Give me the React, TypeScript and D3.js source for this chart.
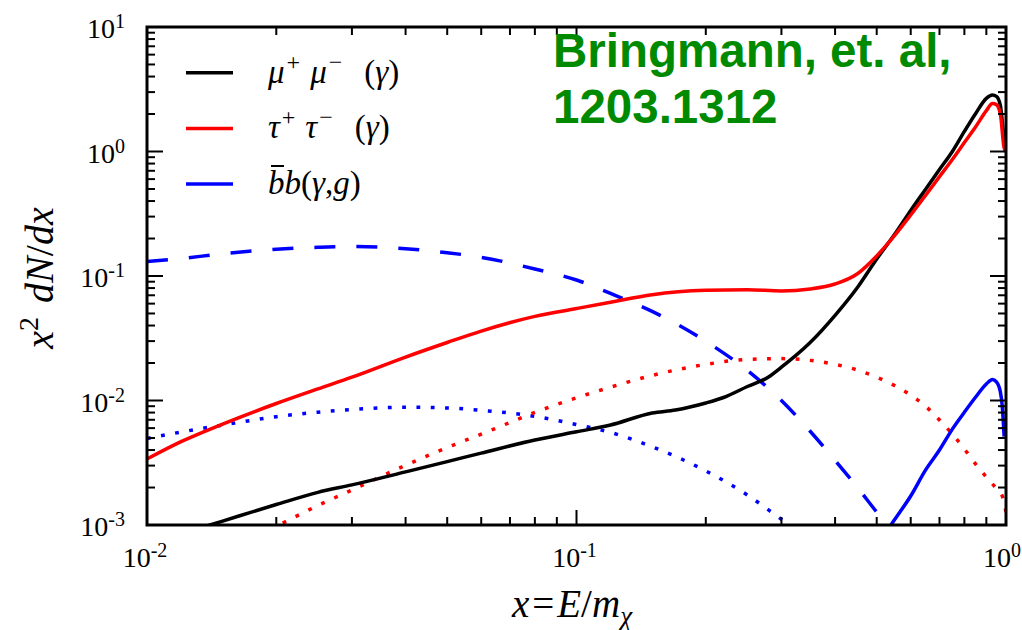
import React from 'react';
import * as d3 from 'd3';

// mu+ mu- (gamma), black solid
const muX = [0.01, 0.012, 0.015, 0.02, 0.025, 0.03, 0.04, 0.05, 0.06, 0.08, 0.1, 0.12, 0.15, 0.17, 0.2, 0.22, 0.25, 0.28, 0.3, 0.35, 0.4, 0.45, 0.5, 0.55, 0.6, 0.65, 0.7, 0.75, 0.8, 0.85, 0.9, 0.93, 0.95, 0.97, 0.99, 1.0];
const muY = [7.0e-4, 8.47e-4, 1.075e-3, 1.46e-3, 1.83e-3, 2.1e-3, 2.67e-3, 3.23e-3, 3.78e-3, 4.82e-3, 5.61e-3, 6.35e-3, 7.94e-3, 8.39e-3, 9.55e-3, 0.01057, 0.01295, 0.01545, 0.0185, 0.0292, 0.0483, 0.0801, 0.137, 0.215, 0.336, 0.498, 0.716, 1.0, 1.45, 2.02, 2.67, 2.84, 2.77, 2.36, 1.24, 1.0];

// tau+ tau- (gamma), red solid
const tauX = [0.01, 0.012, 0.015, 0.02, 0.025, 0.03, 0.04, 0.05, 0.06, 0.08, 0.1, 0.12, 0.15, 0.2, 0.25, 0.3, 0.35, 0.4, 0.45, 0.5, 0.55, 0.6, 0.65, 0.7, 0.75, 0.8, 0.85, 0.9, 0.93, 0.95, 0.97, 0.99, 1.0];
const tauY = [3.39e-3, 4.67e-3, 6.47e-3, 9.46e-3, 0.0124, 0.01538, 0.02233, 0.02924, 0.0361, 0.0474, 0.0548, 0.0616, 0.0708, 0.0767, 0.0776, 0.0758, 0.0787, 0.0863, 0.1038, 0.145, 0.211, 0.309, 0.445, 0.628, 0.863, 1.18, 1.58, 2.13, 2.43, 2.38, 2.01, 1.07, 1.0];

// tau dotted (red)
const tauDotX = [0.018, 0.02, 0.025, 0.03, 0.04, 0.05, 0.06, 0.08, 0.1, 0.12, 0.15, 0.2, 0.25, 0.3, 0.35, 0.4, 0.45, 0.5, 0.55, 0.6, 0.65, 0.7, 0.75, 0.8, 0.85, 0.9, 0.95, 0.98, 1.0];
const tauDotY = [8.37e-4, 9.8e-4, 1.435e-3, 1.91e-3, 3.02e-3, 4.19e-3, 5.36e-3, 8.02e-3, 0.01052, 0.0128, 0.0159, 0.0195, 0.0214, 0.0217, 0.021, 0.0195, 0.0176, 0.0154, 0.0132, 0.01104, 8.98e-3, 6.97e-3, 5.38e-3, 4.08e-3, 3.08e-3, 2.43e-3, 1.96e-3, 1.71e-3, 1.27e-3];

// bb (gamma, g), blue solid
const bbX = [0.5, 0.55, 0.6, 0.65, 0.7, 0.75, 0.8, 0.85, 0.9, 0.93, 0.95, 0.97, 0.98, 0.99];
const bbY = [6.8e-4, 1.1e-3, 1.71e-3, 2.77e-3, 4.0e-3, 5.89e-3, 8.05e-3, 0.01067, 0.01358, 0.01475, 0.0141, 0.01178, 9.04e-3, 5.12e-3];

// bb dashed (blue)
const bbDashX = [0.01, 0.012, 0.015, 0.02, 0.025, 0.03, 0.04, 0.05, 0.06, 0.08, 0.1, 0.12, 0.15, 0.2, 0.25, 0.3, 0.35, 0.4, 0.45, 0.5, 0.55];
const bbDashY = [0.1306, 0.138, 0.151, 0.164, 0.17, 0.1725, 0.1656, 0.1538, 0.1413, 0.1138, 0.0929, 0.0724, 0.052, 0.0299, 0.0174, 0.01, 5.66e-3, 3.3e-3, 2.02e-3, 1.27e-3, 8.5e-4];

// bb dotted (blue)
const bbDotX = [0.01, 0.012, 0.015, 0.02, 0.025, 0.03, 0.04, 0.05, 0.06, 0.08, 0.1, 0.12, 0.15, 0.2, 0.25, 0.3, 0.35];
const bbDotY = [4.95e-3, 5.58e-3, 6.35e-3, 7.41e-3, 8.05e-3, 8.47e-3, 8.82e-3, 8.71e-3, 8.34e-3, 7.46e-3, 6.41e-3, 5.54e-3, 4.25e-3, 2.72e-3, 1.74e-3, 1.11e-3, 7.6e-4];

const xTickExps = [-2, -1, 0];
const yTickExps = [-3, -2, -1, 0, 1];

const W = 1022;
const H = 630;
const L = 147, R = 1006, T = 27, B = 525;

const serif = '"Liberation Serif", "Times New Roman", serif';

const App: React.FC = () => {
  const x = d3.scaleLog().domain([0.01, 1]).range([L, R]);
  const y = d3.scaleLog().domain([1e-3, 10]).range([B, T]);

  const line = d3
    .line<[number, number]>()
    .x(d => x(d[0]))
    .y(d => y(d[1]))
    .curve(d3.curveMonotoneX);

  const path = (xs: number[], ys: number[]) => line(xs.map((v, i) => [v, ys[i]] as [number, number])) || '';

  const series = [
    { xs: bbDashX, ys: bbDashY, color: '#0000ff', dash: '21,21' },
    { xs: bbDotX, ys: bbDotY, color: '#0000ff', dash: '3.8,10.5' },
    { xs: tauDotX, ys: tauDotY, color: '#ff0000', dash: '3.8,10.5' },
    { xs: bbX, ys: bbY, color: '#0000ff', dash: undefined },
    { xs: muX, ys: muY, color: '#000000', dash: undefined },
    { xs: tauX, ys: tauY, color: '#ff0000', dash: undefined },
  ];

  // minor ticks
  const xMinor: number[] = [];
  [-2, -1].forEach(e => d3.range(2, 10).forEach(m => xMinor.push(m * Math.pow(10, e))));
  const yMinor: number[] = [];
  [-3, -2, -1, 0].forEach(e => d3.range(2, 10).forEach(m => yMinor.push(m * Math.pow(10, e))));

  const legend = [
    { color: '#000000', key: 'mu' },
    { color: '#ff0000', key: 'tau' },
    { color: '#0000ff', key: 'bb' },
  ];

  return (
    <svg width={W} height={H} style={{ position: 'absolute', left: 0, top: 0, background: '#fff' }}>
      <defs>
        <clipPath id="plot">
          <rect x={L} y={T} width={R - L} height={B - T} />
        </clipPath>
      </defs>

      <g clipPath="url(#plot)">
        {series.map((s, i) => (
          <path
            key={i}
            d={path(s.xs, s.ys)}
            fill="none"
            stroke={s.color}
            strokeWidth={3.5}
            strokeDasharray={s.dash}
            strokeLinejoin="round"
          />
        ))}
      </g>

      {/* ticks */}
      <g stroke="#000" strokeWidth={2}>
        {xTickExps.map(e => {
          const px = x(Math.pow(10, e));
          return (
            <g key={'xM' + e}>
              <line x1={px} x2={px} y1={B} y2={B - 15} />
              <line x1={px} x2={px} y1={T} y2={T + 15} />
            </g>
          );
        })}
        {xMinor.map((v, i) => (
          <g key={'xm' + i}>
            <line x1={x(v)} x2={x(v)} y1={B} y2={B - 8} />
            <line x1={x(v)} x2={x(v)} y1={T} y2={T + 8} />
          </g>
        ))}
        {yTickExps.map(e => {
          const py = y(Math.pow(10, e));
          return (
            <g key={'yM' + e}>
              <line x1={L} x2={L + 16} y1={py} y2={py} />
              <line x1={R} x2={R - 16} y1={py} y2={py} />
            </g>
          );
        })}
        {yMinor.map((v, i) => (
          <g key={'ym' + i}>
            <line x1={L} x2={L + 8} y1={y(v)} y2={y(v)} />
            <line x1={R} x2={R - 8} y1={y(v)} y2={y(v)} />
          </g>
        ))}
      </g>

      <rect x={L} y={T} width={R - L} height={B - T} fill="none" stroke="#000" strokeWidth={3} />

      {/* tick labels */}
      <g fontFamily={serif} fill="#000">
        {yTickExps.map(e => (
          <text key={'yl' + e} x={125} y={y(Math.pow(10, e)) + 11} textAnchor="end" fontSize={28}>
            10
            <tspan fontSize={20} dy={-10}>{e}</tspan>
          </text>
        ))}
        {xTickExps.map(e => (
          <text
            key={'xl' + e}
            x={e === 0 ? 1021 : x(Math.pow(10, e)) - 2}
            y={567}
            textAnchor={e === 0 ? 'end' : 'middle'}
            fontSize={28}
          >
            10
            <tspan fontSize={20} dy={-10}>{e}</tspan>
          </text>
        ))}
      </g>

      {/* axis labels */}
      <text x={572} y={617} textAnchor="middle" fontFamily={serif} fontSize={39}>
        <tspan fontStyle="italic">x</tspan>
        <tspan dx={3}>=</tspan>
        <tspan fontStyle="italic" dx={3}>E</tspan>
        <tspan>/</tspan>
        <tspan fontStyle="italic">m</tspan>
        <tspan fontStyle="italic" fontSize={27} dy={8}>χ</tspan>
      </text>
      <text
        transform="translate(53,278) rotate(-90)"
        textAnchor="middle"
        fontFamily={serif}
        fontSize={40}
      >
        <tspan fontStyle="italic">x</tspan>
        <tspan fontSize={28} dy={-15}>2</tspan>
        <tspan dy={15} dx={14} fontStyle="italic">dN</tspan>
        <tspan>/</tspan>
        <tspan fontStyle="italic">dx</tspan>
      </text>

      {/* legend */}
      {legend.map((d, i) => {
        const ly = 72.7 + i * 55.7;
        return (
          <g key={d.key}>
            <line x1={186} x2={233} y1={ly} y2={ly} stroke={d.color} strokeWidth={3.5} />
            <text x={268} y={ly + 10} fontFamily={serif} fontSize={33}>
              {d.key === 'mu' && (
                <>
                  <tspan fontStyle="italic">μ</tspan>
                  <tspan fontSize={24} dy={-13} dx={2}>+</tspan>
                  <tspan dy={13} dx={10} fontStyle="italic">μ</tspan>
                  <tspan fontSize={24} dy={-13} dx={2}>−</tspan>
                  <tspan dy={13} dx={22}>(</tspan>
                  <tspan fontStyle="italic">γ</tspan>
                  <tspan>)</tspan>
                </>
              )}
              {d.key === 'tau' && (
                <>
                  <tspan fontStyle="italic">τ</tspan>
                  <tspan fontSize={24} dy={-13} dx={2}>+</tspan>
                  <tspan dy={13} dx={10} fontStyle="italic">τ</tspan>
                  <tspan fontSize={24} dy={-13} dx={2}>−</tspan>
                  <tspan dy={13} dx={22}>(</tspan>
                  <tspan fontStyle="italic">γ</tspan>
                  <tspan>)</tspan>
                </>
              )}
              {d.key === 'bb' && (
                <>
                  <tspan fontStyle="italic">bb</tspan>
                  <tspan>(</tspan>
                  <tspan fontStyle="italic">γ</tspan>
                  <tspan>,</tspan>
                  <tspan fontStyle="italic">g</tspan>
                  <tspan>)</tspan>
                </>
              )}
            </text>
            {d.key === 'bb' && <line x1={271} x2={284} y1={166} y2={166} stroke="#000" strokeWidth={2} />}
          </g>
        );
      })}

      {/* annotation */}
      <g fontFamily='"Liberation Sans", Arial, sans-serif' fontWeight="bold" fontSize={47.5} fill="#008a00">
        <text x={553} y={67}>Bringmann, et. al,</text>
        <text x={553} y={123}>1203.1312</text>
      </g>
    </svg>
  );
};

export default App;
